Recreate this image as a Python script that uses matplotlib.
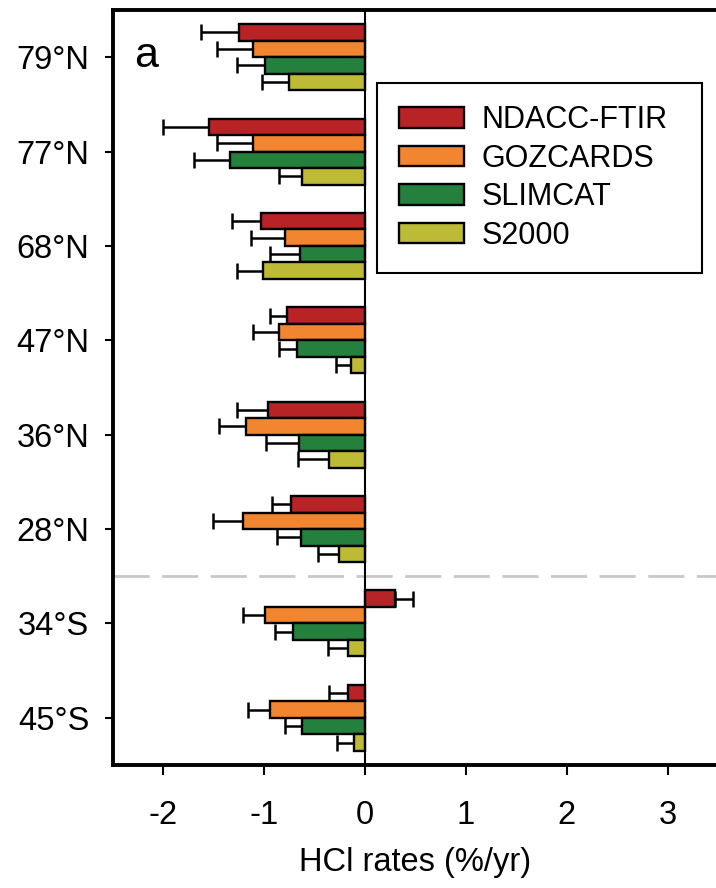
import matplotlib
matplotlib.use("Agg")
import matplotlib.pyplot as plt
import numpy as np

plt.rcParams['font.family'] = ['Liberation Sans', 'DejaVu Sans']

stations = ["79°N", "77°N", "68°N", "47°N", "36°N", "28°N", "34°S", "45°S"]
series = ["NDACC-FTIR", "GOZCARDS", "SLIMCAT", "S2000"]
colors = ["#B82326", "#F28530", "#24803C", "#BDBB35"]

ndacc = [-1.25, -1.545, -1.03, -0.77, -0.96, -0.73, 0.30, -0.17]
gozcards = [-1.11, -1.11, -0.79, -0.85, -1.18, -1.21, -0.99, -0.94]
slimcat = [-0.99, -1.34, -0.65, -0.68, -0.66, -0.64, -0.71, -0.625]
s2000 = [-0.75, -0.63, -1.01, -0.14, -0.36, -0.26, -0.17, -0.11]

ndacc_err = [0.38, 0.455, 0.29, 0.17, 0.31, 0.19, 0.18, 0.19]
gozcards_err = [0.36, 0.36, 0.34, 0.26, 0.27, 0.30, 0.22, 0.22]
slimcat_err = [0.28, 0.36, 0.29, 0.17, 0.32, 0.23, 0.18, 0.165]
s2000_err = [0.27, 0.22, 0.26, 0.15, 0.31, 0.21, 0.20, 0.17]

values = [ndacc, gozcards, slimcat, s2000]
errors = [ndacc_err, gozcards_err, slimcat_err, s2000_err]

fig = plt.figure(figsize=(7.16, 8.88), dpi=100)
ax = fig.add_axes([113/716, 1 - 765/888, 605/716, 755/888])

y = np.arange(len(stations))
bh = 0.175
offsets = np.array([-1.5, -0.5, 0.5, 1.5]) * bh

for vals, errs, col, lab, off in zip(values, errors, colors, series, offsets):
    vals = np.array(vals)
    errs = np.array(errs)
    ax.barh(y + off, vals, height=bh, color=col, edgecolor='black',
            linewidth=1.7, label=lab, zorder=3)
    lower = np.where(vals < 0, errs, 0)
    upper = np.where(vals > 0, errs, 0)
    ax.errorbar(vals, y + off, xerr=[lower, upper], fmt='none',
                ecolor='black', elinewidth=1.8, capsize=5.5, capthick=1.8,
                zorder=2)

ax.axvline(0, color='black', lw=1.5, zorder=4)
ax.axhline(5.5, color='#c8c8c8', lw=2, ls=(0, (13, 4.5)), zorder=1)

ax.set_xlim(-2.5, 3.5)
ax.set_ylim(7.5, -0.5)
ax.set_yticks(y)
ax.set_yticklabels(stations)
ax.set_xticks([-2, -1, 0, 1, 2, 3])
ax.set_xticklabels(["-2", "-1", "0", "1", "2", "3"])
ax.tick_params(axis='y', labelsize=23.5, length=6, width=1.5, pad=11)
ax.tick_params(axis='x', labelsize=23.5, length=7, width=1.5, pad=18)
ax.set_xlabel("HCl rates (%/yr)", fontsize=23.5, labelpad=12)

for sp in ax.spines.values():
    sp.set_linewidth(2.8)

ax.text(0.035, 0.965, "a", transform=ax.transAxes, fontsize=31,
        ha='left', va='top')

leg = ax.legend(loc='upper left', bbox_to_anchor=(0.436, 0.603, 0.537, 0.3),
                mode='expand', borderaxespad=0, fontsize=22,
                handlelength=2.15, handleheight=0.65, handletextpad=0.55,
                labelspacing=0.28, borderpad=0.72, fancybox=False,
                framealpha=1)
leg.get_frame().set_edgecolor('black')
leg.get_frame().set_linewidth(1.5)

fig.savefig("out.png", dpi=100)
